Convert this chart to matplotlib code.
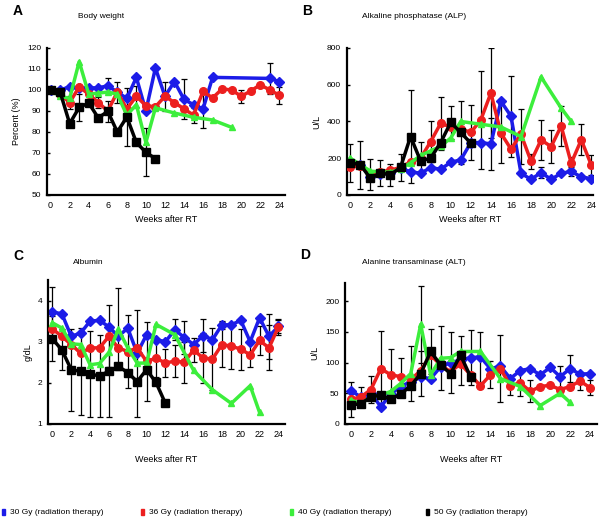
import numpy as np
import matplotlib
matplotlib.use("Agg")
import matplotlib.pyplot as plt
from matplotlib.patches import Rectangle

plt.rcParams['font.family'] = ['Liberation Sans', 'DejaVu Sans']

# ---- data ----
# A: body weight (%)
wk_a_blue = [0, 1, 2, 3, 4, 5, 6, 7, 8, 9, 10, 11, 12, 13, 14, 15, 16, 17, 23, 24]
bw_blue = [100, 100, 101.5, 101, 101, 101, 102, 99, 96, 106, 90, 110.5, 97, 104, 95.5, 93, 91, 106, 105.5, 104]
bw_blue_err = [0, 0, 0, 0, 0, 0, 3.5, 0, 0, 0, 0, 0, 0, 0, 9.5, 0, 9, 0, 7.5, 0]
wk_a_red = list(range(0, 25))
bw_red = [100, 98, 94, 101.5, 98, 94, 90, 99, 91, 97, 92.5, 92, 97, 94, 91, 88, 99.3, 96.2, 100.5, 100, 97, 99.5, 102.5, 100, 97.5]
bw_red_err = [0, 0, 3, 0, 0, 2.5, 0, 5, 0, 5, 0, 0, 7, 0, 0, 3.5, 0, 0, 0, 0, 3, 0, 0, 0, 4]
wk_a_green = [0, 1, 2, 3, 4, 5, 6, 7, 8, 9, 10, 11, 13, 15, 17, 19]
bw_green = [100, 97, 96, 113.5, 98, 98.5, 99, 98, 88, 93, 75, 91.5, 89, 87, 85.7, 82.2]
bw_green_err = [0] * 16
wk_a_black = [0, 1, 2, 3, 4, 5, 6, 7, 8, 9, 10, 11]
bw_black = [100, 99, 84, 91.7, 93.8, 86.7, 89.8, 80, 87.1, 75, 70.3, 67.3]
bw_black_err = [0, 0, 0, 6.5, 0, 0, 5, 0, 14, 0, 11.5, 0]

# B: ALP (U/L)
wk_b = list(range(0, 25))
alp_blue = [170, 165, 100, 115, 120, 145, 127, 118, 149, 140, 178, 191, 285, 285, 278, 510, 429, 118, 85, 122, 85, 118, 128, 98, 89]
alp_blue_err = [0, 0, 0, 0, 0, 0, 0, 0, 0, 0, 0, 0, 0, 0, 140, 0, 220, 0, 0, 30, 0, 0, 25, 0, 0]
alp_red = [150, 160, 110, 125, 135, 150, 180, 200, 290, 390, 370, 360, 340, 409, 555, 336, 250, 330, 183, 300, 263, 375, 173, 300, 163]
alp_red_err = [0, 0, 85, 0, 0, 0, 0, 90, 110, 145, 0, 0, 150, 265, 245, 160, 0, 0, 40, 110, 90, 110, 35, 85, 55]
wk_b_green = [0, 1, 2, 3, 4, 5, 6, 7, 8, 9, 10, 11, 13, 15, 17, 19, 21, 22]
alp_green = [200, 165, 130, 125, 125, 140, 175, 215, 240, 265, 310, 400, 385, 370, 318, 642, 473, 400]
alp_green_err = [0] * 8 + [0, 0, 0, 0, 0, 0, 150, 0, 0, 0]
wk_b_black = list(range(0, 13))
alp_black = [175, 165, 90, 120, 110, 150, 318, 185, 200, 285, 395, 340, 282]
alp_black_err = [105, 130, 0, 70, 60, 75, 255, 0, 0, 0, 90, 170, 0]

# C: albumin (g/dL)
wk_c = list(range(0, 25))
alb_blue = [3.72, 3.68, 3.13, 3.21, 3.5, 3.52, 3.36, 3.13, 3.33, 2.72, 3.17, 3.05, 3.0, 3.29, 3.1, 2.93, 3.15, 3.05, 3.41, 3.41, 3.52, 3.0, 3.58, 3.13, 3.37]
alb_blue_err = [0.62, 0, 0, 0, 0, 0, 0, 0, 0, 0, 0, 0, 0, 0.25, 0.4, 0, 0.4, 0, 0.1, 0, 0, 0, 0, 0.55, 0.15]
alb_red = [3.31, 3.13, 2.93, 2.72, 2.85, 2.85, 3.13, 2.85, 2.76, 2.85, 2.52, 2.6, 2.48, 2.53, 2.5, 2.8, 2.6, 2.58, 2.93, 2.89, 2.82, 2.68, 3.03, 2.85, 3.36]
alb_red_err = [0, 0, 0, 0, 0, 0, 0.75, 0, 0.88, 0, 0.97, 0.45, 0.35, 0.4, 0.5, 0.3, 0.6, 0.75, 0.55, 0.55, 0.5, 0.3, 0.35, 0.55, 0.2]
wk_c_green = [0, 1, 2, 3, 4, 5, 6, 7, 8, 9, 10, 11, 13, 15, 17, 19, 21, 22]
alb_green = [3.46, 3.33, 2.95, 2.93, 2.44, 2.47, 2.74, 3.3, 2.85, 2.48, 2.48, 3.42, 3.17, 2.3, 1.83, 1.5, 1.93, 1.28]
alb_green_err = [0, 0, 0, 0, 0, 0, 0, 1.0, 0, 1.3, 0, 0, 0, 0, 0, 0, 0, 0]
wk_c_black = list(range(0, 13))
alb_black = [3.07, 2.8, 2.32, 2.28, 2.21, 2.17, 2.28, 2.4, 2.25, 2.03, 2.32, 2.01, 1.5]
alb_black_err = [0.55, 0.5, 1.0, 1.05, 1.05, 1.0, 1.1, 0, 0, 0, 0, 0, 0]

# D: ALT (U/L)
wk_d = list(range(0, 25))
alt_blue = [54, 44, 50, 28, 49, 61, 69, 76, 74, 93, 100, 104, 108, 109, 90, 94, 74, 87, 90, 80, 92, 77, 90, 81, 82]
alt_blue_err = [0, 0, 0, 0, 0, 0, 0, 0, 0, 0, 49, 40, 45, 40, 0, 0, 0, 0, 0, 0, 0, 18, 22, 0, 0]
alt_red = [40, 44, 56, 90, 80, 77, 72, 87, 112, 96, 85, 98, 80, 62, 80, 90, 62, 67, 53, 61, 63, 56, 61, 70, 59]
alt_red_err = [28, 16, 22, 62, 42, 30, 0, 0, 0, 0, 0, 0, 0, 0, 22, 55, 15, 22, 18, 0, 0, 0, 0, 15, 12]
wk_d_green = [0, 1, 2, 3, 4, 5, 6, 7, 8, 9, 10, 11, 13, 15, 17, 19, 21, 22]
alt_green = [39, 33, 44, 47, 53, 66, 82, 162, 80, 107, 108, 118, 118, 74, 61, 30, 50, 35]
alt_green_err = [0, 0, 0, 0, 0, 0, 45, 63, 0, 52, 0, 0, 0, 0, 0, 0, 0, 0]
wk_d_black = list(range(0, 13))
alt_black = [31, 33, 44, 47, 40, 49, 62, 82, 118, 96, 82, 112, 77]
alt_black_err = [0, 0, 0, 0, 0, 0, 0, 37, 37, 0, 0, 0, 0]

doses = ["30 Gy (radiation therapy)", "36 Gy (radiation therapy)",
         "40 Gy (radiation therapy)", "50 Gy (radiation therapy)"]
colors = ["#1c1ce8", "#ec1f1f", "#3cee3c", "#000000"]
markers = ["D", "o", "^", "s"]
msizes = [5, 5.5, 4.5, 5.5]

fig = plt.figure(figsize=(6, 5.18), dpi=100)


def panel(rect, series, ylim, yticks, xlim, ylabel, lpad):
    ax = fig.add_axes(rect)
    for i, (x, y, e) in enumerate(series):
        x = np.array(x, dtype=float)
        y = np.array(y, dtype=float)
        e = np.array(e, dtype=float)
        m = e > 0
        ax.errorbar(x[m], y[m], yerr=e[m], fmt='none', ecolor='black',
                    elinewidth=0.9, capsize=2, capthick=0.9, zorder=1)
        ax.plot(x, y, color=colors[i], lw=2.5, marker=markers[i],
                ms=msizes[i], mec=colors[i], zorder=2 + i)
    ax.set_xlim(*xlim)
    ax.set_ylim(*ylim)
    ax.set_xticks(range(0, 25, 2))
    ax.set_yticks(yticks)
    ax.tick_params(axis='x', length=0, labelsize=6.5, pad=4)
    ax.tick_params(axis='y', direction='in', length=2, width=1, labelsize=6, pad=4)
    for s in ['top', 'right']:
        ax.spines[s].set_visible(False)
    for s in ['left', 'bottom']:
        ax.spines[s].set_linewidth(1.6)
    ax.set_xlabel("Weeks after RT", fontsize=6.5, labelpad=lpad)
    ax.set_ylabel(ylabel, fontsize=6.5)
    return ax


panel([0.078, 0.6236, 0.397, 0.2838],
      [(wk_a_blue, bw_blue, bw_blue_err), (wk_a_red, bw_red, bw_red_err),
       (wk_a_green, bw_green, bw_green_err), (wk_a_black, bw_black, bw_black_err)],
      (50, 120), range(50, 121, 10), (-0.4, 24.6), "Percent (%)", 4)
panel([0.578, 0.6236, 0.41, 0.2838],
      [(wk_b, alp_blue, alp_blue_err), (wk_b, alp_red, alp_red_err),
       (wk_b_green, alp_green, alp_green_err), (wk_b_black, alp_black, alp_black_err)],
      (0, 800), range(0, 801, 200), (-0.35, 24.15), "U/L", 4)
panel([0.08, 0.1815, 0.395, 0.278],
      [(wk_c, alb_blue, alb_blue_err), (wk_c, alb_red, alb_red_err),
       (wk_c_green, alb_green, alb_green_err), (wk_c_black, alb_black, alb_black_err)],
      (1, 4.5), [1, 2, 3, 4], (-0.47, 24.7), "g/dL", 12)
panel([0.575, 0.1815, 0.42, 0.2728],
      [(wk_d, alt_blue, alt_blue_err), (wk_d, alt_red, alt_red_err),
       (wk_d_green, alt_green, alt_green_err), (wk_d_black, alt_black, alt_black_err)],
      (0, 230), range(0, 201, 50), (-0.6, 24.7), "U/L", 12)

# panel letters and titles
H = 518.0
for letter, x, y in [("A", 13, 11), ("B", 302, 11), ("C", 13, 256), ("D", 300, 255)]:
    fig.text(x / 600, 1 - y / H, letter, fontsize=10, fontweight='bold', va='center')
for t, x, y in [("Body weight", 78, 16), ("Alkaline phosphatase (ALP)", 362, 16),
                ("Albumin", 73, 263), ("Alanine transaminase (ALT)", 362, 263)]:
    fig.text(x / 600, 1 - y / H, t, fontsize=6, va='center')

# legend along the bottom
for i, (lab, x) in enumerate(zip(doses, [2, 141, 290, 426])):
    fig.add_artist(Rectangle((x / 600, 1 - 515 / H), 3 / 600, 6 / H,
                             transform=fig.transFigure, color=colors[i]))
    fig.text((x + 8) / 600, 1 - 512 / H, lab, fontsize=6, va='center')

fig.savefig("out.png", dpi=100)
